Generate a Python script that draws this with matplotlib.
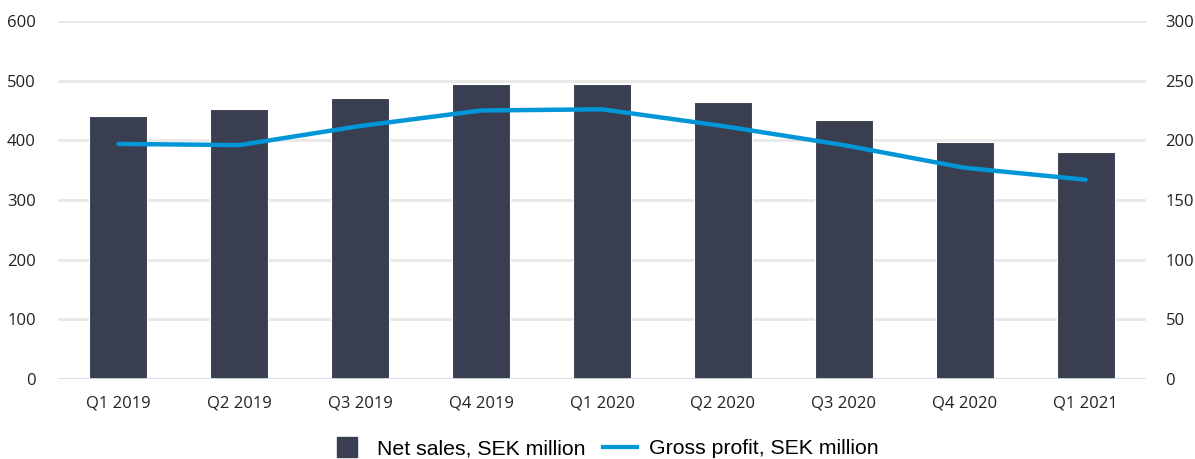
import numpy as np
import matplotlib.pyplot as plt
from matplotlib.lines import Line2D

quarters = ['Q1 2019', 'Q2 2019', 'Q3 2019', 'Q4 2019', 'Q1 2020',
            'Q2 2020', 'Q3 2020', 'Q4 2020', 'Q1 2021']
net_sales = [441, 452, 471, 495, 495, 465, 434, 397, 381]
gross_profit = [197, 196, 212, 225, 226, 212, 196, 177, 167]

bar_color = '#393e50'
line_color = '#0096d8'

plt.rcParams['font.family'] = ['Open Sans', 'DejaVu Sans']

fig = plt.figure(figsize=(11.95, 4.59), dpi=100)
ax = fig.add_axes([58 / 1195, 1 - 379 / 459, 1088 / 1195, 358 / 459])
x = np.arange(len(quarters))

ax.set_ylim(0, 600)
ax.set_yticks(range(0, 601, 100))
ax.set_xlim(-0.5, len(quarters) - 0.5)
for v in range(100, 601, 100):
    ax.axhline(v, color='#e8e8e8', lw=2, zorder=0)
ax.bar(x, net_sales, width=0.48, color=bar_color, zorder=2,
       edgecolor='white', linewidth=0.8)
ax.axhline(0, color='#d3dae6', lw=2, zorder=3)

ax2 = ax.twinx()
ax2.set_ylim(0, 300)
ax2.set_yticks(range(0, 301, 50))
ax2.plot(x, gross_profit, color=line_color, lw=3.2, solid_capstyle='round')

for a in (ax, ax2):
    for s in a.spines.values():
        s.set_visible(False)
    a.tick_params(length=0, labelsize=12, colors='#222222')
ax.tick_params(axis='y', pad=16)
ax2.tick_params(axis='y', pad=14)
ax.tick_params(axis='x', pad=12)
ax.set_xticks(x)
ax.set_xticklabels(quarters)

handles = [Line2D([], [], marker='s', ls='none', markersize=14,
                  markerfacecolor=bar_color, markeredgecolor=bar_color),
           Line2D([], [], color=line_color, lw=3)]
fig.legend(handles, ['Net sales, SEK million', 'Gross profit, SEK million'],
           loc='center', bbox_to_anchor=(0.506, 1 - 449 / 459), ncol=2,
           frameon=False, handlelength=1.6, columnspacing=0.8,
           handletextpad=0.6,
           prop={'family': ['Liberation Sans', 'DejaVu Sans'], 'size': 15.3})

fig.savefig('out.png', dpi=100)
